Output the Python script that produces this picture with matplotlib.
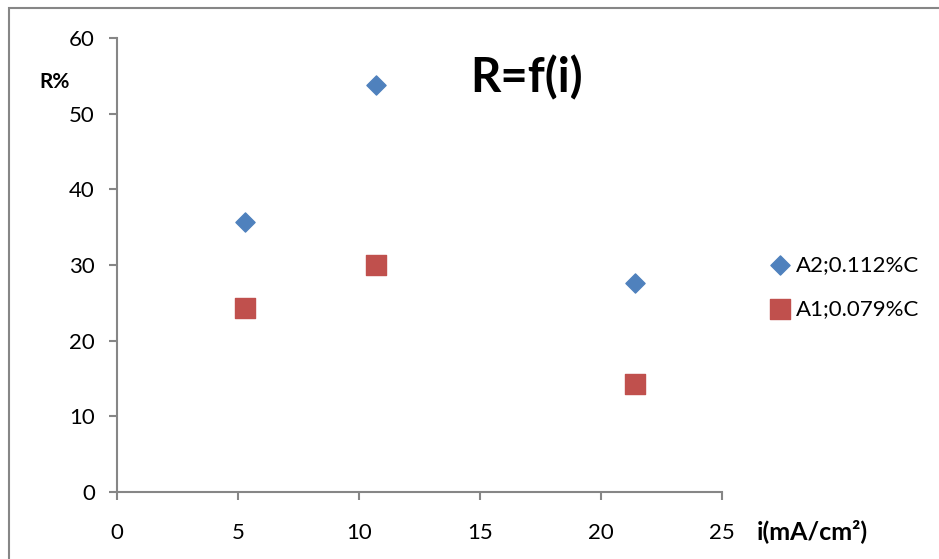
import matplotlib.pyplot as plt
from matplotlib.patches import Rectangle

# current density (mA/cm2) and R%
i_vals = [5.3, 10.7, 21.4]
r_a2 = [35.7, 53.8, 27.6]
r_a1 = [24.3, 30.0, 14.3]
labels = ['A2;0.112%C', 'A1;0.079%C']

plt.rcParams['font.family'] = ['Lato', 'DejaVu Sans']

fig = plt.figure(figsize=(9.39, 5.59), dpi=100)
ax = fig.add_axes([117/939, 1 - 492/559, (722 - 117)/939, (492 - 38)/559])

ax.scatter(i_vals, r_a2, marker='D', s=95, color='#4F81BD', label=labels[0], zorder=3)
ax.scatter(i_vals, r_a1, marker='s', s=190, color='#C0504D', label=labels[1], zorder=3)

ax.set_xlim(0, 25)
ax.set_ylim(0, 60)
ax.set_xticks(range(0, 26, 5))
ax.set_yticks(range(0, 61, 10))
for side in ['top', 'right']:
    ax.spines[side].set_visible(False)
for side in ['left', 'bottom']:
    ax.spines[side].set_color('#868686')
    ax.spines[side].set_linewidth(1.5)
ax.tick_params(direction='out', length=6, width=1.5, color='#868686',
               labelsize=16, pad=16)
ax.tick_params(axis='y', pad=10)

fig.text(527/939, 1 - 78/559, 'R=f(i)', fontsize=34, fontweight='bold',
         ha='center', va='center')
fig.text(55/939, 1 - 82/559, 'R%', fontsize=15, fontweight='bold',
         ha='center', va='center')
fig.text(812/939, 1 - 531/559, 'i(mA/cm²)', fontsize=18, fontweight='bold',
         ha='center', va='center')

ax.legend(loc='center left', bbox_to_anchor=(743/939, 1 - 287/559),
          bbox_transform=fig.transFigure, frameon=False, fontsize=16,
          handletextpad=0.0, labelspacing=1.1, handlelength=1.5)

fig.patches.append(Rectangle((9/939, -0.05), 1.0, 1 - 8/559 + 0.05,
                             transform=fig.transFigure, fill=False,
                             edgecolor='#868686', linewidth=1.5))

fig.savefig('out.png', dpi=100)
